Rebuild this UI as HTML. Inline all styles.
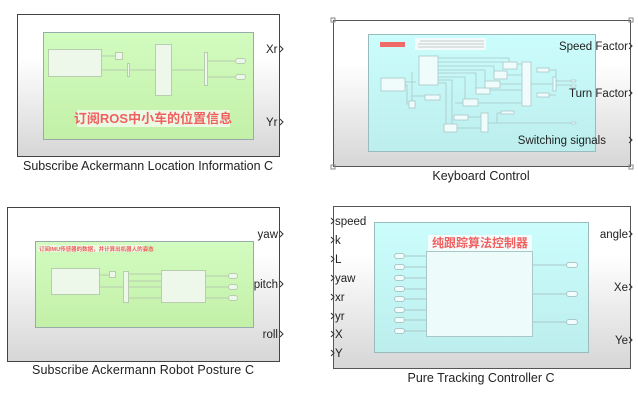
<!DOCTYPE html>
<html><head><meta charset="utf-8"><style>
html,body{margin:0;padding:0;background:#fff;}
text{font-family:"Liberation Sans","Noto Sans CJK SC",sans-serif;}
</style></head><body>
<svg width="638" height="408" viewBox="0 0 638 408" xmlns="http://www.w3.org/2000/svg">
<defs>
<linearGradient id="gb" x1="0" y1="0" x2="0" y2="1">
<stop offset="0" stop-color="#ffffff"/><stop offset="0.3" stop-color="#ffffff"/><stop offset="1" stop-color="#d6d6d6"/></linearGradient>
<linearGradient id="gg" x1="0" y1="0" x2="0" y2="1">
<stop offset="0" stop-color="#d2fcc0"/><stop offset="1" stop-color="#c3f0a8"/></linearGradient>
<linearGradient id="gc" x1="0" y1="0" x2="0" y2="1">
<stop offset="0" stop-color="#ccfdfd"/><stop offset="1" stop-color="#bdeeee"/></linearGradient>
</defs>
<g fill="#eef8ea" stroke="#b8ccb0" stroke-width="1">
<rect x="17.5" y="14.5" width="262" height="142" fill="url(#gb)" stroke="#444"/>
<rect x="43.5" y="32.5" width="210" height="107" fill="url(#gg)" stroke="#9aa"/>
<line x1="101" y1="56" x2="116" y2="56"/><line x1="101" y1="70" x2="205" y2="70"/>
<line x1="205" y1="61" x2="240" y2="61"/><line x1="205" y1="77" x2="240" y2="77"/>
<rect x="48.5" y="49.5" width="53" height="27"/>
<rect x="115.5" y="52.5" width="7" height="7"/>
<rect x="127.5" y="63.5" width="2" height="13"/>
<rect x="155.5" y="44.5" width="16" height="51"/>
<rect x="204.5" y="52.5" width="3" height="33"/>
<rect x="235.5" y="58.5" width="10" height="5" rx="2.5"/>
<rect x="235.5" y="74.5" width="10" height="5" rx="2.5"/>
<rect x="77" y="110" width="153" height="17" fill="#ecfae4" stroke="none"/>
<text x="153" y="123" font-size="13" font-weight="bold" fill="#f06060" stroke="none" text-anchor="middle">订阅ROS中小车的位置信息</text>
</g>
<g font-size="11.5" fill="#222">
<text x="266" y="53">Xr</text><text x="266" y="126">Yr</text>
<text x="148" y="170" text-anchor="middle" font-size="12.5" textLength="250">Subscribe Ackermann Location Information C</text>
</g>
<path d="M280,46 l3,3 -3,3 M280,119 l3,3 -3,3" fill="none" stroke="#333"/>

<rect x="333.5" y="20.5" width="297" height="146" fill="url(#gb)" stroke="#555"/>
<g fill="none" stroke="#888"><rect x="331" y="18" width="4" height="4"/><rect x="629" y="18" width="4" height="4"/><rect x="331" y="165" width="4" height="4"/><rect x="629" y="165" width="4" height="4"/></g>
<rect x="368.5" y="34.5" width="227" height="117" fill="url(#gc)" stroke="#9bb"/>
<rect x="380" y="42" width="25" height="5" fill="#f06a6a"/>
<rect x="415" y="38" width="71" height="12" fill="#f4fafa"/>
<g stroke="#999" stroke-width="0.6"><line x1="420" y1="41" x2="484" y2="41"/><line x1="418" y1="44" x2="484" y2="44"/><line x1="418" y1="47" x2="484" y2="47"/></g>
<g stroke="#a9c8c8" stroke-width="0.8" fill="none">
<path d="M405,82 H416 M412,72 V101 M405,85 H407 V104 H409 M412,96 H425"/>
<path d="M438,58 H509 V65 M438,62 H503 M438,66 H494 V75 M438,70 H485 V84 M438,73 H476 V90 M438,77 H465 V102 M438,80 H452 V124 M438,83 H446 V128 M455,103 H463 M468,103 H522"/>
<path d="M517,64 H522 M507,75 H522 M500,84 H522 M490,90 H522 M531,84 H553 M549,70 H556 V91 M549,95 H556 M556,81 H572 M556,85 H572"/>
<path d="M467,117 H481 M457,128 H481 M488,123 H572 M497,113 V123 M497,113 H501"/>
</g>
<g fill="#f0fbfb" stroke="#a9c8c8" stroke-width="0.8">
<rect x="381" y="78" width="24" height="13"/><rect x="419" y="56" width="19" height="29"/>
<rect x="409" y="101" width="6" height="7"/><rect x="425" y="95" width="15" height="5"/>
<rect x="463" y="99" width="15" height="7"/><rect x="476" y="88" width="14" height="6"/>
<rect x="485" y="81" width="15" height="7"/><rect x="494" y="71" width="13" height="8"/>
<rect x="503" y="62" width="14" height="7"/><rect x="522" y="62" width="9" height="44"/>
<rect x="537" y="68" width="12" height="4"/><rect x="537" y="93" width="12" height="4"/>
<rect x="553" y="77" width="3" height="14"/>
<rect x="571" y="80" width="5" height="2" rx="1"/><rect x="571" y="85" width="5" height="2" rx="1"/>
<rect x="571" y="122" width="5" height="2" rx="1"/>
<rect x="454" y="115" width="14" height="5"/><rect x="444" y="124" width="13" height="8"/>
<rect x="481" y="113" width="7" height="19"/><rect x="501" y="111" width="13" height="3"/>
</g>
<g font-size="11.5" fill="#222" text-anchor="end">
<text x="628" y="50">Speed Factor</text><text x="628" y="97">Turn Factor</text><text x="606" y="144">Switching signals</text>
<text x="481" y="180" text-anchor="middle" font-size="12.5">Keyboard Control</text>
</g>
<path d="M629,43 l3,3 -3,3 M629,90 l3,3 -3,3 M629,137 l3,3 -3,3" fill="none" stroke="#333"/>

<g fill="#eef8ea" stroke="#b8ccb0" stroke-width="1">
<rect x="7.5" y="207.5" width="272" height="154" fill="url(#gb)" stroke="#444"/>
<rect x="35.5" y="241.5" width="218" height="86" fill="url(#gg)" stroke="#9aa"/>
<line x1="99" y1="287" x2="124" y2="287"/><line x1="99" y1="275" x2="109" y2="275"/>
<line x1="129" y1="274" x2="161" y2="274"/><line x1="129" y1="281" x2="161" y2="281"/><line x1="129" y1="287" x2="161" y2="287"/><line x1="129" y1="298" x2="161" y2="298"/>
<line x1="205" y1="276" x2="229" y2="276"/><line x1="205" y1="287" x2="229" y2="287"/><line x1="205" y1="298" x2="229" y2="298"/>
<rect x="51.5" y="268.5" width="48" height="26"/>
<rect x="109.5" y="271.5" width="6" height="6"/>
<rect x="123.5" y="271.5" width="5" height="31"/>
<rect x="161.5" y="270.5" width="44" height="32"/>
<rect x="228.5" y="273.5" width="9" height="5" rx="2.5"/><rect x="228.5" y="284.5" width="9" height="5" rx="2.5"/><rect x="228.5" y="295.5" width="9" height="5" rx="2.5"/>
<rect x="38" y="245" width="106" height="7" fill="#ecfae4" stroke="none"/>
<text x="39" y="251" font-size="5.5" font-weight="bold" fill="#f06060" stroke="none">订阅IMU传感器的数据，并计算出机器人的姿态</text>
</g>
<g font-size="11.5" fill="#222" text-anchor="end">
<text x="278" y="238">yaw</text><text x="278" y="288">pitch</text><text x="278" y="338">roll</text>
<text x="143" y="374" text-anchor="middle" font-size="12.5" textLength="222">Subscribe  Ackermann  Robot Posture C</text>
</g>
<path d="M280,231 l3,3 -3,3 M280,281 l3,3 -3,3 M280,331 l3,3 -3,3" fill="none" stroke="#333"/>

<rect x="333.5" y="206.5" width="297" height="162" fill="url(#gb)" stroke="#555"/>
<rect x="374.5" y="222.5" width="214" height="130" fill="url(#gc)" stroke="#9bb"/>
<rect x="428" y="235" width="104" height="16" fill="#f4fcfc"/>
<text x="480" y="247" font-size="12" font-weight="bold" fill="#f06060" text-anchor="middle" font-family="'Noto Serif CJK SC',serif">纯跟踪算法控制器</text>
<g stroke="#a9c8c8" stroke-width="1" fill="#f2fcfc">
<path d="M404,256 H427 M404,267 H427 M404,278 H427 M404,289 H427 M404,299 H427 M404,310 H427 M404,320 H427 M404,331 H427 M532,265 H567 M532,294 H567 M532,322 H567" fill="none"/>
<rect x="426.5" y="251.5" width="106" height="85" fill="#eefbfb"/>
<rect x="394.5" y="253.5" width="10" height="5" rx="2.5"/><rect x="394.5" y="264.5" width="10" height="5" rx="2.5"/>
<rect x="394.5" y="275.5" width="10" height="5" rx="2.5"/><rect x="394.5" y="286.5" width="10" height="5" rx="2.5"/>
<rect x="394.5" y="296.5" width="10" height="5" rx="2.5"/><rect x="394.5" y="307.5" width="10" height="5" rx="2.5"/>
<rect x="394.5" y="317.5" width="10" height="5" rx="2.5"/><rect x="394.5" y="328.5" width="10" height="5" rx="2.5"/>
<rect x="566.5" y="262.5" width="11" height="5" rx="2.5"/><rect x="566.5" y="291.5" width="11" height="5" rx="2.5"/><rect x="566.5" y="319.5" width="11" height="5" rx="2.5"/>
</g>
<g font-size="11.5" fill="#222">
<text x="335" y="225">speed</text><text x="335" y="244">k</text><text x="335" y="263">L</text><text x="335" y="282">yaw</text>
<text x="335" y="301">xr</text><text x="335" y="320">yr</text><text x="335" y="338">X</text><text x="335" y="357">Y</text>
<g text-anchor="end"><text x="628" y="238">angle</text><text x="628" y="291">Xe</text><text x="628" y="344">Ye</text></g>
<text x="481" y="382" text-anchor="middle" font-size="12.5" textLength="147">Pure Tracking Controller C</text>
</g>
<path d="M331,218 l3,3 -3,3 M331,237 l3,3 -3,3 M331,256 l3,3 -3,3 M331,275 l3,3 -3,3 M331,294 l3,3 -3,3 M331,313 l3,3 -3,3 M331,331 l3,3 -3,3 M331,350 l3,3 -3,3 M629,231 l3,3 -3,3 M629,284 l3,3 -3,3 M629,337 l3,3 -3,3" fill="none" stroke="#333"/>
</svg>
</body></html>
